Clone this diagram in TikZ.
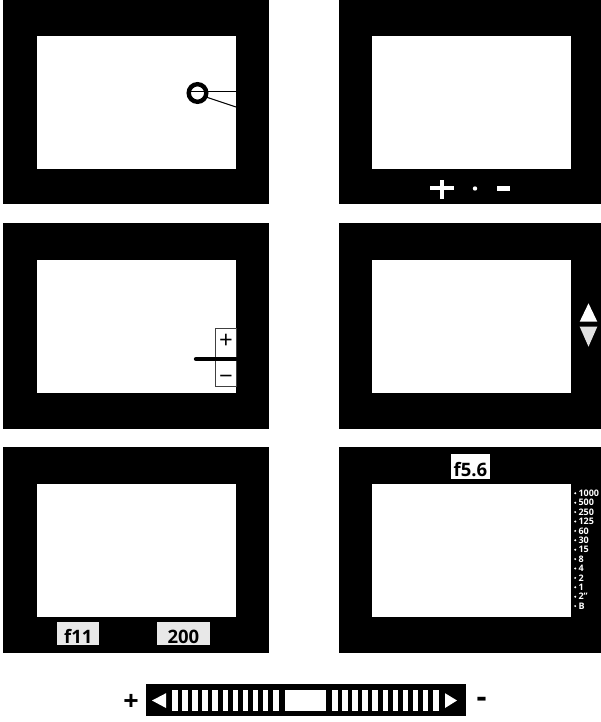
\documentclass[tikz,border=0pt]{standalone}
\usepackage{fontspec}
\setmainfont{Open Sans}
\definecolor{lightgray}{gray}{0.91}
\begin{document}
\begin{tikzpicture}[x=1pt,y=-1pt,
  frame/.style={fill=black},
  screen/.style={fill=white},
  biglbl/.style={font=\bfseries\fontsize{18.5}{20}\selectfont, inner sep=0pt, anchor=base, text=black},
  boxlbl/.style={font=\fontsize{24}{24}\selectfont, inner sep=0pt, text=black},
  speed/.style={font=\bfseries\fontsize{9}{10}\selectfont, inner sep=0pt, anchor=west, text=white},
  sign/.style={font=\bfseries\fontsize{27}{28}\selectfont, inner sep=0pt, text=black}]
\clip (0,0) rectangle (601,722);
\fill[white] (0,0) rectangle (601,722);
% frames
\fill[frame] (3,-1) rectangle (269,204);
\fill[screen] (37,36) rectangle (236,169);
\fill[frame] (339,-1) rectangle (605,204);
\fill[screen] (372,36) rectangle (571,169);
\fill[frame] (3,223) rectangle (269,429);
\fill[screen] (37,260) rectangle (236,393);
\fill[frame] (339,223) rectangle (605,429);
\fill[screen] (372,260) rectangle (571,393);
\fill[frame] (3,447) rectangle (269,653);
\fill[screen] (37,484) rectangle (236,617);
\fill[frame] (339,447) rectangle (605,653);
\fill[screen] (372,484) rectangle (571,617);
% frame 1: ring with lines
\draw[line width=1] (190,92) -- (236,92);
\draw[line width=1] (206,97) -- (236,107);
\draw[line width=4.4] (197.5,93) circle[radius=8.8pt];
% frame 2: + . -
\fill[white] (429.5,186.3) rectangle (454,190.3);
\fill[white] (439.7,180) rectangle (443.7,199);
\fill[white] (475,188.5) circle[radius=2.2pt];
\fill[white] (497,186.2) rectangle (510,190.6);
% frame 3: +/- box with bar
\draw[line width=0.9, draw=black!75, fill=white] (215,328) rectangle (236,386);
\draw[line width=4.3, line cap=round] (196,359) -- (236,359);
\node[boxlbl] (p3) at (226,341) {+};
\node[boxlbl] (m3) at (226,379.5) {−};
% frame 4: triangles
\fill[white] (588.5,303.3) -- (597.3,321.7) -- (579.7,321.7) -- cycle;
\fill[black!12] (579.7,326.7) -- (597.3,326.7) -- (588.5,346.7) -- cycle;
% frame 5: labels
\fill[lightgray] (57.3,622.3) rectangle (99.3,645);
\fill[lightgray] (156.7,622.3) rectangle (210,645);
\node[biglbl] (f11) at (78.3,643) {f11};
\node[biglbl] (t200) at (183.4,643) {200};
% frame 6: aperture and speeds
\fill[white] (451,454) rectangle (490,479);
\node[biglbl] (f56) at (470.5,476.3) {f5.6};
\foreach \t [count=\i from 0] in {1000,500,250,125,60,30,15,8,4,2,1,2",B} {
  \fill[white] (575.2,493.3+9.4*\i) circle[radius=1.1pt];
  \node[speed] (s\i) at (578.3,493.3+9.4*\i) {\t};
}
% bottom bar
\node[sign] (plus) at (131,702.3) {+};
\node[sign, font=\bfseries\fontsize{31}{32}\selectfont] (minus) at (481.7,702) {-};
\fill[black] (146,684) rectangle (466,716);
\fill[white] (152,700.5) -- (166,693.2) -- (166,708) -- cycle;
\foreach \k in {0,...,10} {
  \fill[white] (172+10.1*\k,690) rectangle (177.5+10.1*\k,711);
  \fill[white] (332+10.1*\k,690) rectangle (337.5+10.1*\k,711);
}
\fill[white] (285,690) rectangle (326,711);
\fill[white] (445,693.2) -- (457,700.5) -- (445,708) -- cycle;
\end{tikzpicture}
\end{document}
